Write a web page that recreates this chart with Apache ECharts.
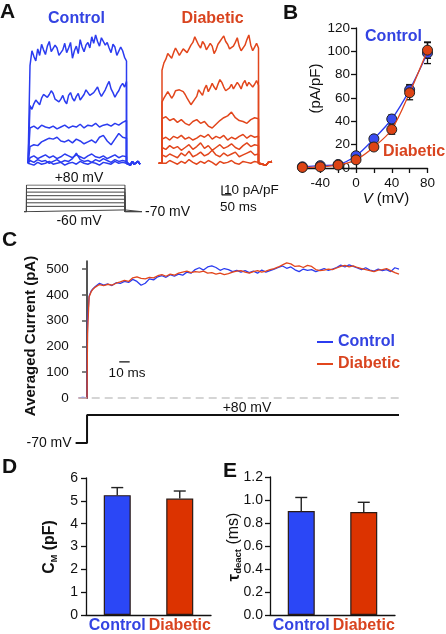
<!DOCTYPE html>
<html><head><meta charset="utf-8">
<script src="https://cdn.jsdelivr.net/npm/echarts@6.0.0/dist/echarts.min.js"></script>
<style>html,body{margin:0;padding:0;background:#fff}#c{width:446px;height:634px}</style>
</head><body><div id="c"></div><script>
// ---------- Panel A: representative traces (pA/pF) during the 500 ms step ----------
const tA10 = [0,10,20,30,40,50,60,70,80,90,100,110,120,130,140,150,160,170,180,190,200,210,220,230,240,250,260,270,280,290,300,310,320,330,340,350,360,370,380,390,400,410,420,430,440,450,460,470,480,490,500];
const tA20 = [0,20,40,60,80,100,120,140,160,180,200,220,240,260,280,300,320,340,360,380,400,420,440,460,480,500];
const tailT = [510,520,530,540,550,560,570];
const cT1 = [105,121,115,110,123,116,128,122,117,126,131,120,118,127,124,116,114,122,129,119,124,130,113,121,126,118,133,125,120,127,130,124,136,129,138,131,126,135,134,127,130,124,119,128,125,116,118,125,121,114,110];
const cT2 = [62,58,64,68,66,63,70,74,76,71,74,78,75,69,71,66,69,73,67,64,73,76,70,67,72,75,68,71,74,79,78,73,72,76,79,82,76,72,74,79,84,88,80,76,71,75,78,83,86,82,88];
const cT3 = [38,40,37,41,39,38,40,37,39,41,38,40,39,42,38,41,40,43,39,41,42,40,43,41,44,46];
const cT4 = [18,20,19,23,25,27,26,28,24,23,25,22,26,24,21,23,25,22,28,30,24,20,26,32,28,27];
const cT5 = [6,8,5,7,9,6,8,5,7,10,8,6,9,7,5,8,10,7,6,8,5,7,9,6,8,7];
const cT6 = [3,1,4,2,3,0,2,4,1,3,2,5,11,4,2,3,1,4,2,5,3,1,4,2,3,2];
const cT7 = [0,-2,1,-1,0,2,-1,0,1,-2,0,1,-1,2,0,-1,1,0,-2,1,0,-1,2,0,1,0];
const cTail = [1,-2,2,-1,0,2,-1];
const dT1 = [100,108,112,118,117,113,119,124,122,116,118,123,125,119,120,127,130,136,134,127,124,131,128,122,120,129,126,118,122,128,131,134,137,131,128,123,122,126,130,135,126,121,119,127,133,138,127,121,125,129,124];
const dT2 = [66,70,72,77,75,70,73,78,76,79,81,77,74,70,68,63,64,69,72,79,76,73,80,84,77,81,86,82,79,85,90,87,82,78,77,81,85,80,82,87,84,80,86,89,83,87,88,82,85,89,84];
const dT3 = [48,50,46,48,44,47,43,41,45,47,43,45,40,38,42,46,49,51,55,49,46,45,43,47,49,48];
const dT4 = [26,28,25,29,27,30,26,28,25,27,30,28,31,26,29,27,30,25,28,26,29,31,27,30,28,29];
const dT5 = [17,15,19,16,18,14,17,20,15,18,22,16,19,14,17,20,16,18,21,17,15,19,22,18,20,19];
const dT6 = [9,7,10,8,6,11,8,13,7,9,12,8,10,14,9,7,11,8,10,12,7,9,11,13,9,10];
const dT7 = [2,0,3,1,-1,2,0,4,1,-1,2,0,3,1,-2,2,0,1,3,0,-1,2,1,0,2,1];
const dTail = [2,-1,1,-2,1,0,2];
const protoSteps = [-60,-40,-20,0,20,40,60,80];   // mV
const holdV = -70;
const scaleBarA = {t: 311, ms: 50, y: -34, amp: 10};

// ---------- Panel B: I-V ----------
const vB = [-60,-40,-20,0,20,40,60,80];
const ctrlB = [1,2,3,10.5,25,42,67,98.5];
const ctrlBErr = [0.5,0.8,1,1.5,2,3.5,4.5,9];
const diabB = [0.5,1,2.5,7,18,33,64.5,101];
const diabBErr = [0.5,0.5,1,1.5,2.5,4,6,7];
const tickBX = [-40,0,40,80];

// ---------- Panel C: averaged current (pA) ----------
const tC = [-8,-4,0,0.5,2,4,6,8,12,16,20,24,28,32,36,40,44,48,52,56,60,64,68,72,76,80,84,88,92,96,100,104,108,112,116,120,124,128,132,136,140,144,148,152,156,160,164,168,172,176,180,184,188,192,196,200,204,208,212,216,220,224,228,232,236,240,244,248,252,256,260,264,268,272,276,280,284,288,292,296,300];
const ctrlC = [0,2,0,300,395,415,425,432,
 445,438,442,436,447,444,452,448,460,452,
 437,445,462,458,470,474,468,478,472,480,
 476,488,484,498,505,496,508,512,506,495,
 502,498,490,495,488,494,486,492,484,496,
 488,494,500,506,512,503,508,497,490,500,
 495,498,490,496,502,495,500,506,515,508,
 516,510,504,498,505,496,492,500,494,498,
 490,505,500];
const diabC = [0,-3,0,250,392,412,423,430,
 440,436,441,438,445,450,456,452,466,470,
 464,462,468,466,474,478,472,480,476,484,
 488,492,486,490,488,492,484,486,480,484,
 478,482,488,492,494,488,484,490,494,488,
 492,498,502,508,516,524,520,510,512,506,
 514,510,498,494,496,500,498,504,510,514,
 508,512,506,502,498,494,490,496,498,502,
 494,486,480];
const tickCY = [0,100,200,300,400,500];
const stepC = {hold: -70, test: 80};
const scaleBarC = {t: 31, ms: 10, y: 140};

// ---------- Panels D, E ----------
const groups = ['Control','Diabetic'];
const cmVals = [5.25, 5.1];
const cmErr = [0.33, 0.33];
const tauVals = [0.905, 0.895];
const tauErr = [0.117, 0.085];

// ---------- styles ----------
const FONT = '"Liberation Sans", Arial, Helvetica, sans-serif';
const BLUE = '#2b3cf0', RED = '#e2461c';
const BLUE_T = '#3343e2', RED_T = '#d9441f';
const BLUE_BAR = '#2b47f6', RED_BAR = '#dc3300';
const AX = {color:'#111', width:1.3};

function mkTrace(pre, times, vals, tail){
  const d = [[pre,0],[0,0]];
  vals.forEach((v,i)=>d.push([times[i], v]));
  d.push([500,0]);
  tail.forEach((v,i)=>d.push([tailT[i], v]));
  return d;
}
const series = [];
[cT7,cT6,cT5,cT4,cT3,cT2,cT1].forEach((arr,k)=>series.push({
  type:'line', name:'cA'+k, xAxisIndex:0, yAxisIndex:0,
  data:mkTrace(-10, arr.length===tA10.length ? tA10 : tA20, arr, cTail),
  symbol:'none', lineStyle:{color:BLUE,width:1.5}, itemStyle:{color:BLUE}, silent:true
}));
[dT7,dT6,dT5,dT4,dT3,dT2,dT1].forEach((arr,k)=>series.push({
  type:'line', name:'dA'+k, xAxisIndex:1, yAxisIndex:1,
  data:mkTrace(-17, arr.length===tA10.length ? tA10 : tA20, arr, dTail),
  symbol:'none', lineStyle:{color:RED,width:1.5}, itemStyle:{color:RED}, silent:true
}));
// scale bar (in diabetic grid coordinates)
series.push({type:'line', name:'sbA', xAxisIndex:1, yAxisIndex:1,
  data:[[scaleBarA.t, scaleBarA.y+scaleBarA.amp],[scaleBarA.t, scaleBarA.y],[scaleBarA.t+scaleBarA.ms, scaleBarA.y]],
  symbol:'none', lineStyle:{color:'#111',width:1.2}, silent:true});
// protocol
protoSteps.forEach((v,k)=>series.push({type:'line', name:'p'+k, xAxisIndex:2, yAxisIndex:2,
  data:[[-12,holdV],[0,holdV],[0,v],[500,v],[500,holdV],[586,holdV]],
  symbol:'none', lineStyle:{color:'#444',width:1}, silent:true}));

// Panel B
function errIV(params, api){
  const x = api.value(0), y = api.value(1), e = api.value(2);
  const a = api.coord([x, y-e]), b = api.coord([x, y+e]);
  const hw = 3.5, st = {stroke:'#111', lineWidth:1.3};
  return {type:'group', children:[
    {type:'line', shape:{x1:a[0],y1:a[1],x2:b[0],y2:b[1]}, style:st},
    {type:'line', shape:{x1:a[0]-hw,y1:a[1],x2:a[0]+hw,y2:a[1]}, style:st},
    {type:'line', shape:{x1:b[0]-hw,y1:b[1],x2:b[0]+hw,y2:b[1]}, style:st}
  ]};
}
series.push({type:'custom', name:'eB1', xAxisIndex:3, yAxisIndex:3, renderItem:errIV, z:2,
  data: vB.map((v,i)=>[v, ctrlB[i], ctrlBErr[i]]), silent:true});
series.push({type:'custom', name:'eB2', xAxisIndex:3, yAxisIndex:3, renderItem:errIV, z:2,
  data: vB.map((v,i)=>[v, diabB[i], diabBErr[i]]), silent:true});
series.push({type:'line', name:'bC', xAxisIndex:3, yAxisIndex:3, data: vB.map((v,i)=>[v, ctrlB[i]]),
  smooth:0.3, symbol:'circle', symbolSize:10, z:3,
  lineStyle:{color:BLUE,width:1.3}, itemStyle:{color:'#3a4cf0', borderColor:'#222', borderWidth:1}, silent:true});
series.push({type:'line', name:'bD', xAxisIndex:3, yAxisIndex:3, data: vB.map((v,i)=>[v, diabB[i]]),
  smooth:0.3, symbol:'circle', symbolSize:10, z:4,
  lineStyle:{color:RED,width:1.3}, itemStyle:{color:'#dd4415', borderColor:'#222', borderWidth:1}, silent:true});

// Panel C
series.push({type:'line', name:'Control', xAxisIndex:4, yAxisIndex:4, data: tC.map((t,i)=>[t, ctrlC[i]]),
  symbol:'none', lineStyle:{color:BLUE,width:1.3}, itemStyle:{color:BLUE}, z:3, silent:true,
  markLine:{silent:true, symbol:'none', label:{show:false}, lineStyle:{color:'#c8c8c8', type:[8,5], width:1.5},
    data:[{yAxis:0}]}});
series.push({type:'line', name:'Diabetic', xAxisIndex:4, yAxisIndex:4, data: tC.map((t,i)=>[t, diabC[i]]),
  symbol:'none', lineStyle:{color:RED,width:1.3}, itemStyle:{color:RED}, z:4, silent:true});
series.push({type:'line', name:'sbC', xAxisIndex:4, yAxisIndex:4,
  data:[[scaleBarC.t, scaleBarC.y],[scaleBarC.t+scaleBarC.ms, scaleBarC.y]],
  symbol:'none', lineStyle:{color:'#111',width:1.4}, silent:true});
series.push({type:'line', name:'stepC', xAxisIndex:5, yAxisIndex:5,
  data:[[-11,stepC.hold],[0,stepC.hold],[0,stepC.test],[300,stepC.test]],
  symbol:'none', lineStyle:{color:'#111',width:2}, silent:true});

// Panels D, E
function errBar(params, api){
  const i = api.value(0), v = api.value(1), e = api.value(2);
  const a = api.coord([i, v]), b = api.coord([i, v+e]);
  const hw = 6, st = {stroke:'#222', lineWidth:1.4};
  return {type:'group', children:[
    {type:'line', shape:{x1:a[0],y1:a[1],x2:b[0],y2:b[1]}, style:st},
    {type:'line', shape:{x1:b[0]-hw,y1:b[1],x2:b[0]+hw,y2:b[1]}, style:st}
  ]};
}
[[6,cmVals,cmErr],[7,tauVals,tauErr]].forEach(([g,vals,errs])=>{
  series.push({type:'bar', name:'bar'+g, xAxisIndex:g, yAxisIndex:g, barWidth:27,
    data: vals.map((v,i)=>({value:v, itemStyle:{color: i? RED_BAR : BLUE_BAR, borderColor:'#2a1a14', borderWidth:1.2}})),
    silent:true});
  series.push({type:'custom', name:'err'+g, xAxisIndex:g, yAxisIndex:g, renderItem:errBar, z:1,
    data: vals.map((v,i)=>[i, v, errs[i]]), silent:true});
});

const hidden = (g,min,max)=>({gridIndex:g, type:'value', min, max, show:false});
const catAxis = g=>({gridIndex:g, type:'category', data:groups,
  axisLine:{lineStyle:AX}, axisTick:{show:false},
  axisLabel:{margin:3, interval:0, formatter:v=> v==='Control' ? '{c|Control}' : '{d|Diabetic}',
    rich:{c:{color:BLUE_T,fontWeight:'bold',fontSize:16,fontFamily:FONT},
          d:{color:RED_T,fontWeight:'bold',fontSize:16,fontFamily:FONT}}}});

// B grid geometry: y axis sits at V = 0
const gridB = {left:302.4, top:28, width:125.1, height:140};
const bXMin = -60, bXMax = 80;
const bYOffset = -gridB.width * (0 - bXMin) / (bXMax - bXMin);

const xAxis = [
  hidden(0,-20,580), hidden(1,-20,580), hidden(2,-12,586),
  {gridIndex:3, type:'value', min:bXMin, max:bXMax, interval:20,
    axisLine:{onZero:false, lineStyle:AX}, axisTick:{length:5, lineStyle:AX},
    axisLabel:{formatter:v=> tickBX.includes(v) ? String(v) : '', fontSize:13.5, color:'#111', margin:8, fontFamily:FONT},
    splitLine:{show:false}},
  hidden(4,-8,300), hidden(5,-11,300),
  catAxis(6), catAxis(7)
];
const yAxis = [
  hidden(0,-40,140), hidden(1,-40,140), hidden(2,-70,80),
  {gridIndex:3, type:'value', min:0, max:120, interval:20, position:'left', offset:bYOffset,
    axisLine:{show:true, onZero:false, lineStyle:AX}, axisTick:{show:true, length:5, lineStyle:AX},
    axisLabel:{fontSize:13.5, color:'#111', margin:6, fontFamily:FONT}, splitLine:{show:false}},
  {gridIndex:4, type:'value', min:0, max:530, interval:100,
    axisLine:{show:true, lineStyle:{color:'#555',width:2}},
    axisTick:{show:true, length:5, lineStyle:{color:'#555',width:1.5}, customValues:tickCY},
    axisLabel:{fontSize:13.5, color:'#111', margin:10, fontFamily:FONT, customValues:tickCY,
      formatter:v=> tickCY.includes(v) ? String(v) : ''}, splitLine:{show:false}},
  {gridIndex:5, type:'value', min:-70, max:80, interval:150,
    axisLine:{show:false}, axisTick:{show:false},
    axisLabel:{fontSize:14, color:'#111', margin:4, fontFamily:FONT, formatter:v=> v===-70 ? '-70 mV' : ''},
    splitLine:{show:false}},
  {gridIndex:6, type:'value', min:0, max:6, interval:1,
    axisLine:{show:true, lineStyle:AX}, axisTick:{show:true, length:5, lineStyle:AX},
    axisLabel:{fontSize:14, color:'#111', margin:8, fontFamily:FONT}, splitLine:{show:false}},
  {gridIndex:7, type:'value', min:0, max:1.2, interval:0.2,
    axisLine:{show:true, lineStyle:AX}, axisTick:{show:true, length:5, lineStyle:AX},
    axisLabel:{fontSize:14, color:'#111', margin:7, fontFamily:FONT, formatter:v=> v.toFixed(1)},
    splitLine:{show:false}}
];

function txt(text, x, y, o){
  o = o || {};
  return {type:'text', x, y, rotation:o.rot||0, z:100, silent:true,
    style:{text, fill:o.color||'#111', fontSize:o.size||14, fontWeight:o.weight||'normal',
      fontFamily:FONT, align:o.align||'center', verticalAlign:'middle', rich:o.rich}};
}
const graphic = [
  txt('A', 0, 12, {size:21, weight:'bold', align:'left'}),
  txt('Control', 76.5, 18.5, {size:16, weight:'bold', color:BLUE_T}),
  txt('Diabetic', 212.5, 18.5, {size:16, weight:'bold', color:RED_T}),
  txt('+80 mV', 79, 178, {size:14}),
  txt('-60 mV', 79, 221, {size:14}),
  txt('-70 mV', 145, 212.5, {size:14, align:'left'}),
  txt('10 pA/pF', 224, 190, {size:13.5, align:'left'}),
  txt('50 ms', 220, 207, {size:13.5, align:'left'}),
  txt('B', 283, 13, {size:21, weight:'bold', align:'left'}),
  txt('Control', 393.5, 37, {size:16, weight:'bold', color:BLUE_T}),
  txt('Diabetic', 414, 152, {size:16, weight:'bold', color:RED_T}),
  txt('(pA/pF)', 316, 88.5, {size:15, rot:Math.PI/2}),
  txt('{i|V} (mV)', 386, 199, {size:15, rich:{i:{fontStyle:'italic', fontSize:15, fontFamily:FONT, fill:'#111'}}}),
  txt('C', 2, 240, {size:21, weight:'bold', align:'left'}),
  txt('Averaged Current (pA)', 31, 336, {size:15, weight:'bold', rot:Math.PI/2}),
  txt('10 ms', 127, 373, {size:13.5}),
  txt('+80 mV', 247, 408, {size:14}),
  txt('D', 2, 467, {size:21, weight:'bold', align:'left'}),
  txt('E', 223, 471, {size:21, weight:'bold', align:'left'}),
  txt('{m|C}{s|M}{m| (pF)}', 50, 547, {size:16, weight:'bold', rot:Math.PI/2, rich:{
    m:{fontSize:16, fontWeight:'bold', fontFamily:FONT, fill:'#111', lineHeight:18},
    s:{fontSize:9, fontWeight:'bold', fontFamily:FONT, fill:'#111', lineHeight:10, verticalAlign:'bottom'}}}),
  txt('{m|\u03c4}{s|deact}{r| (ms)}', 234, 547, {size:16, rot:Math.PI/2, rich:{
    m:{fontSize:17, fontWeight:'bold', fontFamily:FONT, fill:'#111', lineHeight:18},
    s:{fontSize:9.5, fontWeight:'bold', fontFamily:FONT, fill:'#111', lineHeight:10, verticalAlign:'bottom'},
    r:{fontSize:16, fontFamily:FONT, fill:'#111', lineHeight:18}}})
];

const chart = echarts.init(document.getElementById('c'), null, {renderer:'canvas'});
chart.setOption({
  animation:false,
  backgroundColor:'#fff',
  textStyle:{fontFamily:FONT},
  grid:[
    {left:26.14, top:33.1, width:115.8, height:167.4},
    {left:158.14, top:33.1, width:115.8, height:167.4},
    {left:24.1, top:185, width:117.8, height:26.7},
    gridB,
    {left:78.7, top:261.3, width:320.3, height:136.7},
    {left:75.6, top:415, width:323.4, height:28},
    {left:86, top:478, width:125, height:140},
    {left:270, top:477, width:125, height:141}
  ],
  legend:{data:[{name:'Control', textStyle:{color:BLUE_T}}, {name:'Diabetic', textStyle:{color:RED_T}}],
    orient:'vertical', left:312, top:329, itemWidth:16, itemHeight:2, itemGap:6, icon:'rect',
    selectedMode:false, textStyle:{fontSize:16, fontWeight:'bold', fontFamily:FONT}},
  xAxis, yAxis, series, graphic
});
</script></body></html>
